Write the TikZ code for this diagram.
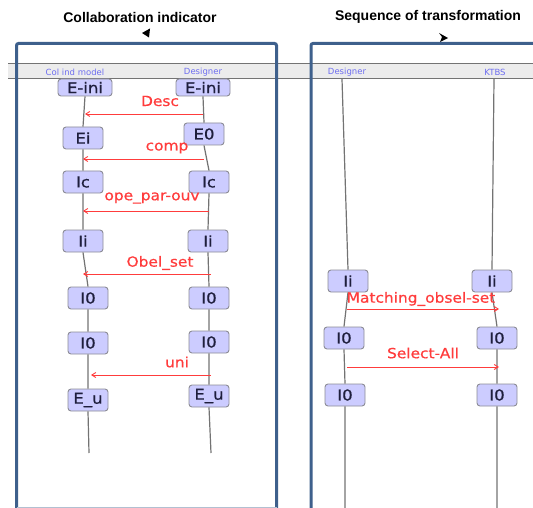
\documentclass[tikz,border=0pt]{standalone}
\usepackage{fontspec}
\setmainfont{Liberation Sans}
\newfontfamily\seqfont[FakeStretch=1.1,FakeBold=0.6]{DejaVu Sans}
\newfontfamily\actorfont{DejaVu Sans}
\usetikzlibrary{arrows.meta}
\definecolor{framecol}{RGB}{62,96,140}
\definecolor{boxfill}{RGB}{204,204,255}
\definecolor{boxline}{RGB}{140,140,150}
\definecolor{boxtext}{RGB}{30,30,60}
\definecolor{msgred}{RGB}{255,60,60}
\definecolor{headfill}{RGB}{236,236,236}
\definecolor{headtext}{RGB}{110,110,240}
\tikzset{
  state/.style={draw=boxline, fill=boxfill, rounded corners=3pt, line width=0.9pt,
    minimum width=40pt, minimum height=22pt, inner sep=1pt,
    font=\seqfont\fontsize{15}{15}\selectfont, text=boxtext},
  startstate/.style={state, minimum width=54pt, minimum height=17pt},
  lifeline/.style={draw=black!55, line width=1.2pt},
  msg/.style={draw=msgred, line width=0.9pt, -{Straight Barb[length=4pt,width=5pt]}},
  msglabel/.style={text=msgred, font=\seqfont\fontsize{14}{14}\selectfont, inner sep=0pt},
  actor/.style={text=headtext, font=\actorfont\fontsize{8.5}{8.5}\selectfont, inner sep=0pt},
  title/.style={font=\bfseries\fontsize{14}{14}\selectfont, inner sep=0pt},
  panel/.style={draw=framecol, line width=3pt, rounded corners=2pt}
}
\begin{document}
\begin{tikzpicture}[x=1pt,y=-1pt]
\useasboundingbox (0,0) rectangle (533,508);
\begin{scope}
\clip (0,0) rectangle (533,508);

% titles and their small pointers
\node[title] (t1) at (140,17) {Collaboration indicator};
\node[title] (t2) at (428,17) {Sequence of transformation};
\fill (142,33) -- (150,28.5) -- (149,37.5) -- cycle;
\fill (448,38) -- (439,33) -- (442,37) -- (440,42) -- cycle;

% actor header band
\fill[headfill] (8,64) rectangle (533,79);
\draw[black!55, line width=1pt] (8,64) -- (533,64) (8,79) -- (533,79);
\node[actor] (h1) at (75,72) {Col ind model};
\node[actor] (h2) at (203,72) {Designer};
\node[actor] (h3) at (347,72) {Designer};
\node[actor] (h4) at (495,72) {KTBS};

% left sequence: states
\node[startstate] (a1) at (85,87.5) {E-ini};
\node[startstate] (b1) at (203,87.5) {E-ini};
\node[state] (a2) at (83,138) {Ei};
\node[state] (b2) at (204,134) {E0};
\node[state] (a3) at (83,182) {Ic};
\node[state] (b3) at (209,182) {Ic};
\node[state] (a4) at (83,241) {Ii};
\node[state] (b4) at (208,241) {Ii};
\node[state] (a5) at (88,298) {I0};
\node[state] (b5) at (209,298) {I0};
\node[state] (a6) at (88,343) {I0};
\node[state] (b6) at (209,342) {I0};
\node[state] (a7) at (88,400) {E\_u};
\node[state] (b7) at (209,396) {E\_u};
\coordinate (a8) at (89,453);
\coordinate (b8) at (211,453);

% right sequence: states
\coordinate (c0) at (342,79);
\coordinate (d0) at (494,79);
\node[state] (c1) at (348,281) {Ii};
\node[state] (d1) at (492,281) {Ii};
\node[state] (c2) at (344,338) {I0};
\node[state] (d2) at (497,338) {I0};
\node[state] (c3) at (345,395) {I0};
\node[state] (d3) at (497,395) {I0};
\coordinate (c4) at (345,510);
\coordinate (d4) at (497,510);

% lifelines
\draw[lifeline] (a1.south) -- (a2.north) (a2.south) -- (a3.north) (a3.south) -- (a4.north)
  (a4.south) -- (a5.north) (a5.south) -- (a6.north) (a6.south) -- (a7.north) (a7.south) -- (a8);
\draw[lifeline] (b1.south) -- (b2.north) (b2.south) -- (b3.north) (b3.south) -- (b4.north)
  (b4.south) -- (b5.north) (b5.south) -- (b6.north) (b6.south) -- (b7.north) (b7.south) -- (b8);
\draw[lifeline] (c0) -- (c1.north) (c1.south) -- (c2.north) (c2.south) -- (c3.north) (c3.south) -- (c4);
\draw[lifeline] (d0) -- (d1.north) (d1.south) -- (d2.north) (d2.south) -- (d3.north) (d3.south) -- (d4);

% messages
\draw[msg] (b1.south |- 0,114) -- (a1.south |- 0,114);
\node[msglabel] (m1) at (160,101) {Desc};
\draw[msg] (b2.south |- 0,159) -- (a2.south |- 0,159);
\node[msglabel] (m2) at (167,148) {comp};
\draw[msg] (b3.south |- 0,211) -- (a3.south |- 0,211);
\node[msglabel] (m3) at (152,198) {ope\_par-ouv};
\draw[msg] (211,274) -- (a4.south |- 0,274);
\node[msglabel] (m4) at (160,263) {Obel\_set};
\draw[msg] (211,375) -- (91,375);
\node[msglabel] (m5) at (177,362) {uni};
\draw[msg] (347,309) -- (499,309);
\node[msglabel] (m6) at (421,299) {Matching\_obsel-set};
\draw[msg] (347,367) -- (499,367);
\node[msglabel] (m7) at (423,353) {Select-All};

% panels
\draw[panel] (16.5,509.5) -- (16.5,43.5) -- (276.5,43.5) -- (276.5,509.5);
\draw[panel] (311,509.5) -- (311,43.5) -- (540,43.5);
\draw[framecol!40, line width=1pt] (16.5,507.5) -- (276.5,507.5);
\end{scope}
\end{tikzpicture}
\end{document}
